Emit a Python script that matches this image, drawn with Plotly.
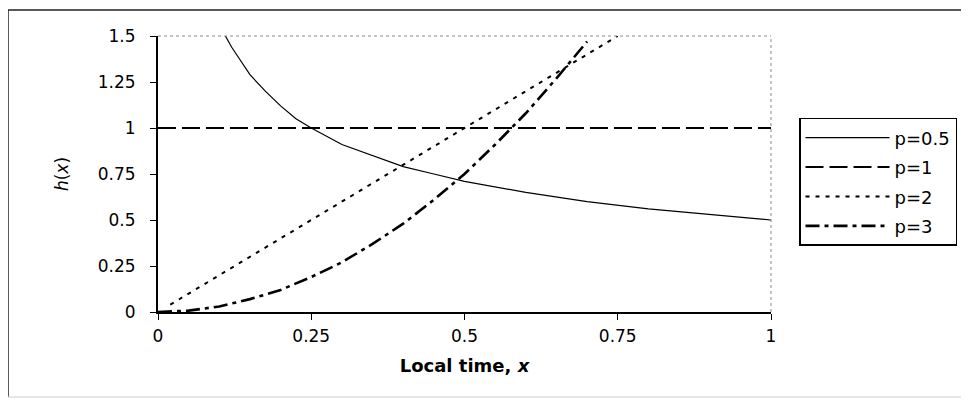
import plotly.graph_objects as go

# Data
x_p05 = [0.11, 0.12, 0.13, 0.14, 0.15, 0.175, 0.2, 0.225, 0.25, 0.3, 0.35, 0.4, 0.45, 0.5, 0.6, 0.7, 0.8, 0.9, 1.0]
h_p05 = [1.5, 1.44, 1.39, 1.34, 1.29, 1.2, 1.12, 1.05, 1.0, 0.91, 0.85, 0.79, 0.75, 0.71, 0.65, 0.60, 0.56, 0.53, 0.50]

x_p1 = [0.0, 1.0]
h_p1 = [1.0, 1.0]

x_p2 = [0.02, 0.1, 0.2, 0.25, 0.3, 0.4, 0.5, 0.6, 0.7, 0.75]
h_p2 = [0.04, 0.2, 0.4, 0.5, 0.6, 0.8, 1.0, 1.2, 1.4, 1.5]

x_p3 = [0.0, 0.05, 0.1, 0.15, 0.2, 0.25, 0.3, 0.35, 0.4, 0.45, 0.5, 0.55, 0.6, 0.65, 0.7]
h_p3 = [0.0, 0.0075, 0.03, 0.07, 0.12, 0.19, 0.27, 0.37, 0.48, 0.61, 0.75, 0.91, 1.08, 1.27, 1.47]

x_ticks = [0, 0.25, 0.5, 0.75, 1]
x_tick_labels = ["0", "0.25", "0.5", "0.75", "1"]
y_ticks = [0, 0.25, 0.5, 0.75, 1, 1.25, 1.5]
y_tick_labels = ["0", "0.25", "0.5", "0.75", "1", "1.25", "1.5"]

FONT = "DejaVu Sans, Liberation Sans, Arial, sans-serif"

fig = go.Figure()
fig.add_trace(go.Scatter(x=x_p05, y=h_p05, mode="lines", name="p=0.5", legendgroup="g1",
                         line=dict(color="black", width=1.2, dash="solid")))
fig.add_trace(go.Scatter(x=x_p1, y=h_p1, mode="lines", name="p=1", legendgroup="g2",
                         line=dict(color="black", width=2, dash="18px,6px")))
fig.add_trace(go.Scatter(x=x_p2, y=h_p2, mode="lines", name="p=2", legendgroup="g3",
                         line=dict(color="black", width=2, dash="4px,6px")))
fig.add_trace(go.Scatter(x=x_p3, y=h_p3, mode="lines", name="p=3", legendgroup="g4",
                         line=dict(color="black", width=2.6, dash="14px,5px,4px,5px")))

# plot-area top and right dotted borders
fig.add_shape(type="line", xref="paper", yref="paper", x0=0, x1=1, y0=1, y1=1,
              line=dict(color="#888888", width=1, dash="dot"))
fig.add_shape(type="line", xref="paper", yref="paper", x0=1, x1=1, y0=0, y1=1,
              line=dict(color="#888888", width=1, dash="dot"))
# outer chart frame (top and left dark, bottom faint; right edge is outside the picture)
fig.add_shape(type="line", xref="paper", yref="paper", x0=-0.2447, x1=1.36, y0=1.094, y1=1.094,
              line=dict(color="#222222", width=1.5))
fig.add_shape(type="line", xref="paper", yref="paper", x0=-0.2447, x1=-0.2447, y0=-0.308, y1=1.094,
              line=dict(color="#222222", width=1.5))
fig.add_shape(type="line", xref="paper", yref="paper", x0=-0.2447, x1=1.36, y0=-0.308, y1=-0.308,
              line=dict(color="#d0d0d0", width=1))

fig.update_layout(
    width=969, height=399,
    margin=dict(l=150, r=206, t=28, b=95),
    paper_bgcolor="white", plot_bgcolor="white",
    font=dict(family=FONT, size=17, color="black"),
    showlegend=True,
    legend=dict(x=1.0457, y=0.703, xanchor="left", yanchor="top",
                bordercolor="black", borderwidth=1.5, bgcolor="white",
                font=dict(family=FONT, size=18, color="black"),
                itemwidth=84, tracegroupgap=3),
    xaxis=dict(range=[0, 1], tickvals=x_ticks, ticktext=x_tick_labels,
               showgrid=False, zeroline=False, showline=True, linecolor="black", linewidth=2,
               ticks="outside", ticklen=6, tickcolor="black", ticklabelstandoff=2,
               title=dict(text="<b>Local time, <i>x</i></b>", font=dict(family=FONT, size=18), standoff=14)),
    yaxis=dict(range=[0, 1.5], tickvals=y_ticks, ticktext=y_tick_labels,
               showgrid=False, zeroline=False, showline=True, linecolor="black", linewidth=2,
               ticks="outside", ticklen=6, tickcolor="black", ticklabelstandoff=11,
               title=dict(text="<i>h</i>(<i>x</i>)", font=dict(family=FONT, size=17), standoff=25)),
)

fig.write_html("out.html")
